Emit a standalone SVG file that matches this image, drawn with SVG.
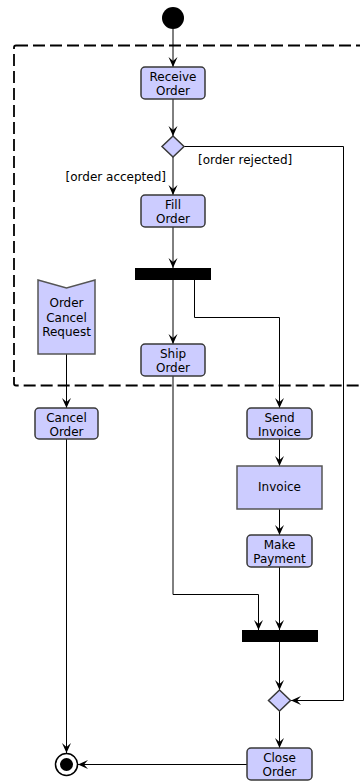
<svg xmlns="http://www.w3.org/2000/svg" width="360" height="781" viewBox="0 0 360 781">
  <style>
    .act { fill: #ccccff; stroke: #383838; stroke-width: 1.5; }
    .obj { fill: #ccccff; stroke: #555555; stroke-width: 1.5; }
    .bar { fill: #000000; }
    .lbl { font-family: "DejaVu Sans", Verdana, sans-serif; font-size: 12px; fill: #000000; text-anchor: middle; }
    .guard { font-family: "DejaVu Sans", Verdana, sans-serif; font-size: 12px; fill: #000000; }
    .edge { fill: none; stroke: #000000; stroke-width: 1; marker-end: url(#arr); }
  </style>
  <defs>
    <marker id="arr" viewBox="0 0 10 10" refX="10" refY="5" markerWidth="10" markerHeight="10" orient="auto" markerUnits="userSpaceOnUse">
      <path d="M0,0.5 L10,5 L0,9.5 L4,5 Z" fill="#000000"/>
    </marker>
  </defs>

  <!-- interruptible region -->
  <g id="region">
    <rect x="14" y="45.5" width="370" height="340" rx="2" fill="none" stroke="#000000" stroke-width="1.8" stroke-dasharray="12 5"/>
  </g>

  <!-- connectors -->
  <g id="connectors">
    <path class="edge" d="M173,29 V67"/>
    <path class="edge" d="M173,99 V136"/>
    <path class="edge" d="M173,157 V195"/>
    <path class="edge" d="M173,227 V268"/>
    <path class="edge" d="M173,280 V344"/>
    <path class="edge" d="M194.5,280 V317.5 H279.5 V408"/>
    <path class="edge" d="M184,146.5 H343.5 V700.5 H291"/>
    <path class="edge" d="M66.5,354 V408"/>
    <path class="edge" d="M66.5,439 V753"/>
    <path class="edge" d="M279.5,439 V466"/>
    <path class="edge" d="M279.5,509 V535"/>
    <path class="edge" d="M173,376 V594.5 H258.5 V630"/>
    <path class="edge" d="M279.5,567 V630"/>
    <path class="edge" d="M279.5,642 V690"/>
    <path class="edge" d="M279.5,711 V748"/>
    <path class="edge" d="M247,764.5 H78"/>
    <text class="guard" x="198" y="164">[order rejected]</text>
    <text class="guard" x="166" y="181" text-anchor="end">[order accepted]</text>
  </g>

  <g id="start">
    <circle cx="173" cy="18" r="11" fill="#000000"/>
  </g>

  <g id="receive-order">
    <rect class="act" x="141" y="67" width="64" height="32" rx="4"/>
    <text class="lbl" x="173" y="81">Receive</text>
    <text class="lbl" x="173" y="95">Order</text>
  </g>

  <g id="decision-accept">
    <polygon class="act" points="173,136 184,146.5 173,157 162,146.5"/>
  </g>

  <g id="fill-order">
    <rect class="act" x="141" y="195" width="64" height="32" rx="4"/>
    <text class="lbl" x="173" y="209">Fill</text>
    <text class="lbl" x="173" y="223">Order</text>
  </g>

  <g id="fork">
    <rect class="bar" x="135" y="268" width="76" height="12"/>
  </g>

  <g id="ship-order">
    <rect class="act" x="141" y="344" width="64" height="32" rx="4"/>
    <text class="lbl" x="173" y="358">Ship</text>
    <text class="lbl" x="173" y="372">Order</text>
  </g>

  <g id="order-cancel-request">
    <polygon class="obj" points="38,280 66.5,288 95,280 95,354 38,354"/>
    <text class="lbl" x="66.5" y="307">Order</text>
    <text class="lbl" x="66.5" y="321.5">Cancel</text>
    <text class="lbl" x="66.5" y="336">Request</text>
  </g>

  <g id="cancel-order">
    <rect class="act" x="35" y="408" width="63" height="31" rx="4"/>
    <text class="lbl" x="66.5" y="422">Cancel</text>
    <text class="lbl" x="66.5" y="436">Order</text>
  </g>

  <g id="send-invoice">
    <rect class="act" x="247" y="408" width="65" height="31" rx="4"/>
    <text class="lbl" x="279.5" y="422">Send</text>
    <text class="lbl" x="279.5" y="436">Invoice</text>
  </g>

  <g id="invoice">
    <rect class="obj" x="237" y="466" width="85" height="43"/>
    <text class="lbl" x="279.5" y="491">Invoice</text>
  </g>

  <g id="make-payment">
    <rect class="act" x="247" y="535" width="65" height="32" rx="4"/>
    <text class="lbl" x="279.5" y="549">Make</text>
    <text class="lbl" x="279.5" y="563">Payment</text>
  </g>

  <g id="join">
    <rect class="bar" x="242" y="630" width="76" height="12"/>
  </g>

  <g id="decision-merge">
    <polygon class="act" points="279.5,690 290.5,700.5 279.5,711 268.5,700.5"/>
  </g>

  <g id="close-order">
    <rect class="act" x="247" y="748" width="65" height="32" rx="4"/>
    <text class="lbl" x="279.5" y="762">Close</text>
    <text class="lbl" x="279.5" y="776">Order</text>
  </g>

  <g id="end">
    <circle cx="66.5" cy="764.5" r="11" fill="#ffffff" stroke="#000000" stroke-width="1.5"/>
    <circle cx="66.5" cy="764.5" r="6.5" fill="#000000"/>
  </g>
</svg>
